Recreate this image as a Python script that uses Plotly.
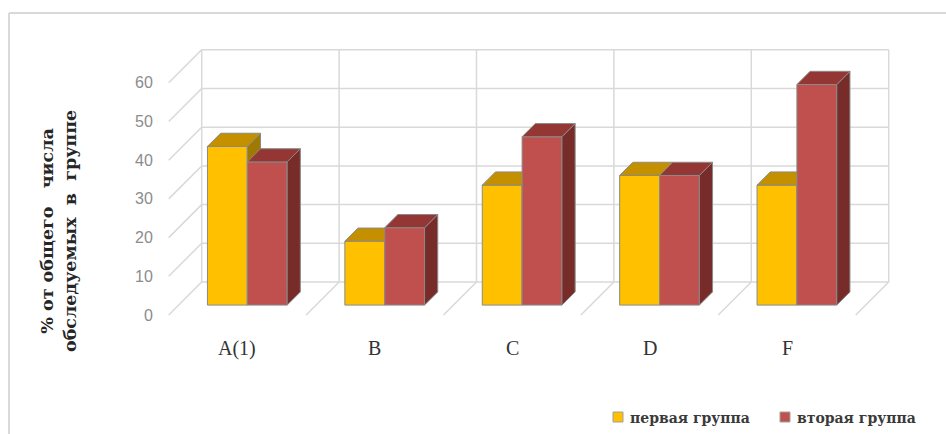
import plotly.graph_objects as go

# ---- data ----
categories = ["A(1)", "B", "C", "D", "F"]
group1 = [41, 16.5, 31, 33.5, 31]      # первая группа
group2 = [37, 20, 43.5, 33.5, 57]      # вторая группа
series_names = ["первая группа", "вторая группа"]
y_ticks = [0, 10, 20, 30, 40, 50, 60]

# ---- pseudo-3D geometry (in axis units) ----
W, H = 946, 434
PX_X = 137.4          # px per category
PX_Y = 3.87           # px per value unit
X0_PX = 168.7         # px of x=0 at depth 0
Y0_PX = 315.0         # px of v=0 at depth 0
DEPTH_PX = 33.0
DXd = DEPTH_PX / PX_X      # x shift for full depth
DYd = DEPTH_PX / PX_Y      # v shift for full depth
D_FRONT, D_BACK = 0.3, 0.7
BAR_W = 0.29
VMAX = 60

x_range = [-X0_PX / PX_X, (W - X0_PX) / PX_X]
y_range = [(Y0_PX - H) / PX_Y, Y0_PX / PX_Y]

def P(x, v, d):
    return x + d * DXd, v + d * DYd

fig = go.Figure()
grid_col = "#d9d9d9"

def line(pts, color=grid_col, width=1.5):
    xs = [p[0] for p in pts]
    ys = [p[1] for p in pts]
    fig.add_trace(go.Scatter(x=xs, y=ys, mode="lines", line=dict(color=color, width=width),
                             hoverinfo="skip", showlegend=False))

n = len(categories)
# back wall horizontal gridlines + left wall diagonals
for t in y_ticks:
    line([P(0, t, 0), P(0, t, 1), P(n, t, 1)])
# back wall verticals
for i in range(n + 1):
    line([P(i, 0, 1), P(i, VMAX, 1)])
# floor diagonals
for i in range(1, n + 1):
    line([P(i, 0, 0), P(i, 0, 1)])

edge = "#8a8a8a"
colors = [
    dict(front="#FFC000", top="#C49000", side="#A07A00"),
    dict(front="#C0504D", top="#943634", side="#772C2A"),
]

def poly(pts, fill):
    xs = [p[0] for p in pts] + [pts[0][0]]
    ys = [p[1] for p in pts] + [pts[0][1]]
    fig.add_trace(go.Scatter(x=xs, y=ys, mode="lines", fill="toself", fillcolor=fill,
                             line=dict(color=edge, width=1), hoverinfo="skip", showlegend=False))

for i in range(n):
    c = i + 0.5
    for s, vals in enumerate([group1, group2]):
        v = vals[i]
        xa = c - BAR_W + s * BAR_W
        xb = xa + BAR_W
        col = colors[s]
        poly([P(xa, 0, D_FRONT), P(xb, 0, D_FRONT), P(xb, v, D_FRONT), P(xa, v, D_FRONT)], col["front"])
        poly([P(xb, 0, D_FRONT), P(xb, 0, D_BACK), P(xb, v, D_BACK), P(xb, v, D_FRONT)], col["side"])
        poly([P(xa, v, D_FRONT), P(xb, v, D_FRONT), P(xb, v, D_BACK), P(xa, v, D_BACK)], col["top"])

annotations = []
# y tick labels
for t in y_ticks:
    x, y = P(0, t, 0)
    annotations.append(dict(x=x - 14 / PX_X, y=y, xref="x", yref="y", text=str(t), showarrow=False,
                            xanchor="right", yanchor="middle",
                            font=dict(family="Liberation Sans", size=16, color="#8c8c8c")))
# category labels
for i, cat in enumerate(categories):
    x, y = P(i + 0.5, 0, 0)
    annotations.append(dict(x=x, y=(Y0_PX - 348) / PX_Y, xref="x", yref="y", text=cat, showarrow=False,
                            xanchor="center", yanchor="middle",
                            font=dict(family="Liberation Serif", size=20, color="#333333")))
# axis title
annotations.append(dict(x=58 / W, y=1 - 231 / H, xref="paper", yref="paper",
                        text="<b>% от общего &nbsp;&nbsp;числа<br>обследуемых &nbsp;в &nbsp;группе</b>",
                        textangle=-90, showarrow=False, xanchor="center", yanchor="middle",
                        font=dict(family="DejaVu Serif", size=17.5, color="#262626")))

shapes = [
    dict(type="line", xref="paper", yref="paper", x0=9 / W, x1=1, y0=1 - 13 / H, y1=1 - 13 / H,
         line=dict(color="#d9d9d9", width=2)),
    dict(type="line", xref="paper", yref="paper", x0=9 / W, x1=9 / W, y0=1 - 13 / H, y1=0,
         line=dict(color="#d9d9d9", width=2)),
]

# manual legend
legend_pos = [(613, 628), (780, 795)]
for s in range(2):
    sx, tx = legend_pos[s]
    shapes.append(dict(type="rect", xref="paper", yref="paper",
                       x0=sx / W, x1=(sx + 10) / W, y0=1 - 422 / H, y1=1 - 412 / H,
                       fillcolor=colors[s]["front"], line=dict(color="#a0a0a0", width=1)))
    annotations.append(dict(x=tx / W, y=1 - 418 / H, xref="paper", yref="paper",
                            text="<b>" + series_names[s] + "</b>", showarrow=False,
                            xanchor="left", yanchor="middle",
                            font=dict(family="DejaVu Serif", size=14, color="#3a3a3a")))

fig.update_layout(
    width=W, height=H,
    margin=dict(l=0, r=0, t=0, b=0),
    paper_bgcolor="white", plot_bgcolor="white",
    xaxis=dict(range=x_range, visible=False, fixedrange=True),
    yaxis=dict(range=y_range, visible=False, fixedrange=True),
    showlegend=False,
    annotations=annotations,
    shapes=shapes,
)

fig.write_html("out.html")
